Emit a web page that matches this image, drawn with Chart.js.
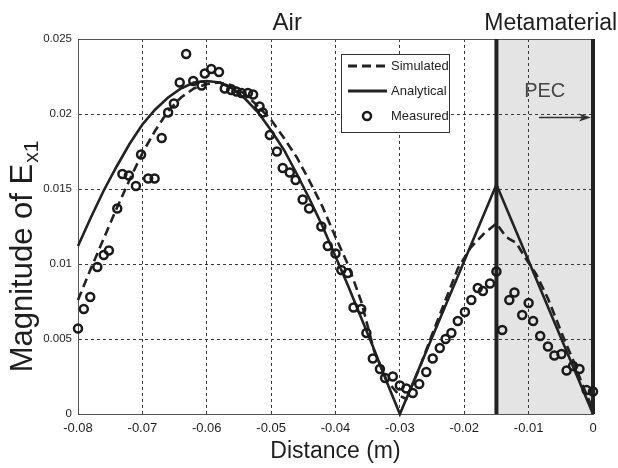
<!DOCTYPE html>
<html><head><meta charset="utf-8">
<script src="https://cdn.jsdelivr.net/npm/chart.js@4/dist/chart.umd.min.js"></script>
<style>html,body{margin:0;padding:0;background:#fff;}#wrap{width:618px;height:468px;position:relative;}</style>
</head><body><div id="wrap"><canvas id="c" width="618" height="468"></canvas></div>
<script>
// ---- data ----
const xTickValues = [-0.08, -0.07, -0.06, -0.05, -0.04, -0.03, -0.02, -0.01, 0];
const yTickValues = [0, 0.005, 0.01, 0.015, 0.02, 0.025];

const analyticalX = [-0.080,-0.078,-0.076,-0.074,-0.072,-0.070,-0.068,-0.066,-0.064,-0.062,-0.060,-0.058,-0.056,-0.054,-0.052,-0.050,-0.048,-0.046,-0.044,-0.042,-0.040,-0.038,-0.036,-0.034,-0.032,-0.030,-0.025,-0.020,-0.015,-0.010,-0.005,0.000];
const analyticalY = [0.0112,0.0131,0.0149,0.0165,0.0180,0.0193,0.0203,0.0211,0.0217,0.0221,0.0222,0.0221,0.0217,0.0210,0.0201,0.0189,0.0176,0.0160,0.0143,0.0125,0.0105,0.0085,0.0064,0.0043,0.0021,0.0000,0.0051,0.0102,0.0153,0.0102,0.0051,0.0000];

const simulatedX = [-0.080,-0.078,-0.076,-0.074,-0.072,-0.070,-0.068,-0.066,-0.064,-0.062,-0.060,-0.058,-0.056,-0.054,-0.052,-0.050,-0.048,-0.046,-0.044,-0.042,-0.040,-0.038,-0.036,-0.034,-0.032,-0.030,-0.029,-0.027,-0.025,-0.023,-0.021,-0.019,-0.017,-0.015,-0.0135,-0.0119,-0.0105,-0.0088,-0.0070,-0.0057,-0.0044,-0.0031,-0.0015,0.000];
const simulatedY = [0.0076,0.0097,0.0117,0.0137,0.0156,0.0174,0.0189,0.0202,0.0211,0.0217,0.0220,0.0221,0.0219,0.0213,0.0205,0.0196,0.0184,0.0171,0.0155,0.0138,0.0118,0.0099,0.0075,0.0042,0.0022,0.0012,0.0010,0.0030,0.0053,0.0075,0.0097,0.0111,0.0120,0.0127,0.0118,0.0114,0.0104,0.0093,0.0077,0.0063,0.0049,0.0036,0.0018,0.0003];

const measuredX = [-0.0800,-0.0791,-0.0781,-0.0770,-0.0760,-0.0752,-0.0739,-0.0731,-0.0721,-0.0710,-0.0702,-0.0691,-0.0681,-0.0670,-0.0660,-0.0651,-0.0642,-0.0632,-0.0621,-0.0608,-0.0603,-0.0593,-0.0581,-0.0572,-0.0562,-0.0554,-0.0546,-0.0536,-0.0528,-0.0518,-0.0513,-0.0502,-0.0491,-0.0482,-0.0471,-0.0462,-0.0451,-0.0441,-0.0422,-0.0412,-0.0400,-0.0391,-0.0381,-0.0372,-0.0360,-0.0352,-0.0342,-0.0331,-0.0323,-0.0311,-0.0300,-0.0290,-0.0280,-0.0270,-0.0259,-0.0249,-0.0238,-0.0229,-0.0220,-0.0210,-0.0199,-0.0189,-0.0179,-0.0171,-0.0160,-0.0150,-0.0141,-0.0130,-0.0122,-0.0110,-0.0100,-0.0093,-0.0082,-0.0070,-0.0060,-0.0049,-0.0041,-0.0031,-0.0021,-0.0010,0.0000];
const measuredY = [0.0057,0.0070,0.0078,0.0098,0.0106,0.0109,0.0137,0.0160,0.0159,0.0152,0.0173,0.0157,0.0157,0.0184,0.0201,0.0207,0.0221,0.0240,0.0222,0.0219,0.0227,0.0230,0.0228,0.0217,0.0216,0.0215,0.0214,0.0214,0.0213,0.0205,0.0201,0.0186,0.0175,0.0164,0.0161,0.0156,0.0143,0.0137,0.0125,0.0112,0.0107,0.0096,0.0094,0.0071,0.0070,0.0054,0.0037,0.0030,0.0024,0.0025,0.0019,0.0017,0.0014,0.0020,0.0028,0.0037,0.0044,0.0050,0.0054,0.0062,0.0068,0.0076,0.0084,0.0082,0.0087,0.0095,0.0056,0.0076,0.0081,0.0066,0.0074,0.0062,0.0052,0.0045,0.0039,0.0040,0.0029,0.0032,0.0030,0.0016,0.0015];

const seriesNames = ['Simulated', 'Analytical', 'Measured'];
const regionNames = ['Air', 'Metamaterial'];
const regionBounds = [-0.08, -0.015, 0];
const pecLabel = 'PEC';
const pecArrow = {x0: -0.0084, x1: 0, y: 0.0198, textX: -0.0075, textY: 0.0215};

// ---- helpers ----
const pts = (xs, ys) => xs.map((x, i) => ({x: x, y: ys[i]}));
const FONT = '"Liberation Sans", Arial, Helvetica, sans-serif';
const INK = '#1e1e1e';
const fmt = v => { const n = Number(Number(v).toFixed(4)); return n === 0 ? '0' : String(n); };

const decor = {
  id: 'decor',
  beforeDraw(chart) {
    const {ctx, chartArea: a, scales: {x}} = chart;
    ctx.save();
    ctx.fillStyle = '#fff';
    ctx.fillRect(0, 0, chart.width, chart.height);
    const gx0 = x.getPixelForValue(regionBounds[1]);
    const gx1 = x.getPixelForValue(regionBounds[2]);
    ctx.fillStyle = '#e4e4e4';
    ctx.fillRect(gx0, a.top, gx1 - gx0, a.bottom - a.top);
    ctx.restore();
  },
  beforeDatasetsDraw(chart) {
    const {ctx, chartArea: a, scales: {x, y}} = chart;
    ctx.save();
    ctx.strokeStyle = '#555';
    ctx.lineWidth = 1;
    ctx.beginPath();
    ctx.moveTo(a.left, a.top + 0.5); ctx.lineTo(a.right, a.top + 0.5);
    ctx.stroke();
    ctx.strokeStyle = '#222';
    ctx.lineWidth = 4;
    [regionBounds[1], regionBounds[2]].forEach(v => {
      const px = x.getPixelForValue(v);
      ctx.beginPath(); ctx.moveTo(px, a.top); ctx.lineTo(px, a.bottom); ctx.stroke();
    });
    ctx.fillStyle = '#444';
    ctx.font = '20px ' + FONT;
    ctx.textAlign = 'center';
    ctx.textBaseline = 'middle';
    ctx.fillText(pecLabel, x.getPixelForValue(pecArrow.textX), y.getPixelForValue(pecArrow.textY));
    const ax0 = x.getPixelForValue(pecArrow.x0), ax1 = x.getPixelForValue(pecArrow.x1) - 2, ay = Math.round(y.getPixelForValue(pecArrow.y)) + 0.5;
    ctx.strokeStyle = '#333'; ctx.lineWidth = 1.5;
    ctx.beginPath(); ctx.moveTo(ax0, ay); ctx.lineTo(ax1 - 6, ay); ctx.stroke();
    ctx.fillStyle = '#333';
    ctx.beginPath(); ctx.moveTo(ax1, ay); ctx.lineTo(ax1 - 12, ay - 4); ctx.lineTo(ax1 - 9, ay); ctx.lineTo(ax1 - 12, ay + 4); ctx.closePath(); ctx.fill();
    ctx.restore();
  },
  afterDraw(chart) {
    const {ctx, scales: {x}} = chart;
    ctx.save();
    ctx.fillStyle = INK;
    ctx.textAlign = 'center';
    ctx.textBaseline = 'alphabetic';
    ctx.font = '24px ' + FONT;
    ctx.fillText(regionNames[0], (x.getPixelForValue(regionBounds[0]) + x.getPixelForValue(regionBounds[1])) / 2, 30);
    ctx.font = '23px ' + FONT;
    ctx.fillText(regionNames[1], (x.getPixelForValue(regionBounds[1]) + x.getPixelForValue(regionBounds[2])) / 2 + 6, 30);

    ctx.save();
    ctx.translate(32, 257);
    ctx.rotate(-Math.PI / 2);
    ctx.textAlign = 'left';
    ctx.font = '31px ' + FONT;
    const main = 'Magnitude of E';
    const wMain = ctx.measureText(main).width;
    ctx.font = '21px ' + FONT;
    const sub = 'x1';
    const wSub = ctx.measureText(sub).width;
    const start = -(wMain + wSub) / 2;
    ctx.font = '31px ' + FONT;
    ctx.fillText(main, start, 0);
    ctx.font = '21px ' + FONT;
    ctx.fillText(sub, start + wMain + 1, 6);
    ctx.restore();

    const lx = 341.5, ly = 54.5, lw = 108, lh = 78;
    ctx.fillStyle = '#fff';
    ctx.fillRect(lx, ly, lw, lh);
    ctx.strokeStyle = '#333'; ctx.lineWidth = 1;
    ctx.strokeRect(lx, ly, lw, lh);
    const rows = [66, 91, 116];
    chart.data.datasets.forEach((ds, i) => {
      const ry = rows[i];
      ctx.strokeStyle = ds.borderColor;
      if (ds.showLine) {
        ctx.lineWidth = 3;
        ctx.setLineDash(ds.borderDash || []);
        ctx.beginPath(); ctx.moveTo(348, ry); ctx.lineTo(387, ry); ctx.stroke();
        ctx.setLineDash([]);
      } else {
        ctx.lineWidth = ds.pointBorderWidth;
        ctx.beginPath(); ctx.arc(367, ry, ds.pointRadius, 0, Math.PI * 2); ctx.stroke();
      }
      ctx.fillStyle = INK;
      ctx.font = '13px ' + FONT;
      ctx.textAlign = 'left';
      ctx.textBaseline = 'middle';
      ctx.fillText(ds.label, 391, ry);
    });
    ctx.restore();
  }
};

new Chart(document.getElementById('c'), {
  type: 'scatter',
  data: {
    datasets: [
      {label: seriesNames[0], data: pts(simulatedX, simulatedY), showLine: true, borderColor: '#222', borderWidth: 2.6, borderDash: [9, 5], pointRadius: 0, tension: 0, order: 2, clip: false},
      {label: seriesNames[1], data: pts(analyticalX, analyticalY), showLine: true, borderColor: '#222', borderWidth: 2.6, pointRadius: 0, tension: 0, order: 3, clip: false},
      {label: seriesNames[2], data: pts(measuredX, measuredY), showLine: false, borderColor: '#1a1a1a', backgroundColor: 'rgba(0,0,0,0)', pointBackgroundColor: 'rgba(0,0,0,0)', pointBorderColor: '#1a1a1a', pointRadius: 4, pointBorderWidth: 2.5, order: 1, clip: false}
    ]
  },
  options: {
    responsive: false,
    animation: false,
    layout: {padding: {top: 39, right: 25, left: 0, bottom: 0}},
    plugins: {legend: {display: false}, tooltip: {enabled: false}},
    scales: {
      x: {
        type: 'linear', min: -0.08, max: 0,
        afterBuildTicks: s => { s.ticks = xTickValues.map(v => ({value: v})); },
        afterFit: s => { s.height = 54; },
        ticks: {callback: v => fmt(v), color: INK, font: {family: FONT, size: 13}, padding: 7, maxRotation: 0, autoSkip: false},
        grid: {color: '#3a3a3a', lineWidth: 1, drawTicks: false},
        border: {display: true, color: '#555', width: 1, dash: [3, 3]},
        title: {display: true, text: 'Distance (m)', color: INK, font: {family: FONT, size: 23}, padding: {top: 0, bottom: 3}}
      },
      y: {
        type: 'linear', min: 0, max: 0.025,
        afterBuildTicks: s => { s.ticks = yTickValues.map(v => ({value: v})); },
        afterFit: s => { s.width = 78; },
        ticks: {callback: v => fmt(v), color: INK, font: {family: FONT, size: 11.5}, padding: 6, autoSkip: false},
        grid: {color: '#3a3a3a', lineWidth: 1, drawTicks: false},
        border: {display: true, color: '#555', width: 1, dash: [3, 3]}
      }
    }
  },
  plugins: [decor]
});
</script>
</body></html>
